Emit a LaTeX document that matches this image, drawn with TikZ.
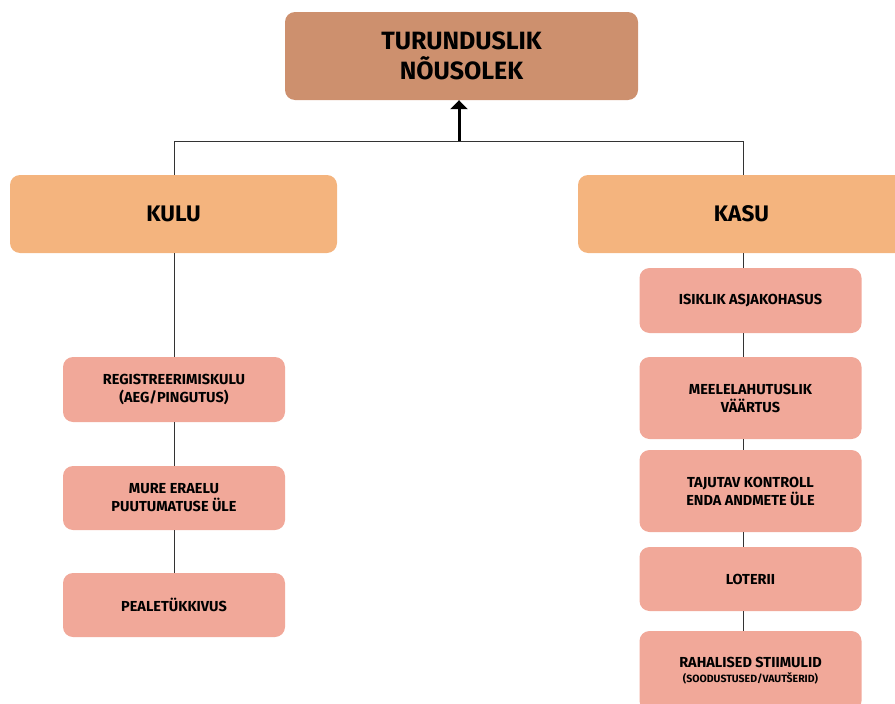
\documentclass[tikz,border=0pt]{standalone}
\usepackage{fontspec}
\setmainfont{Fira Sans}
\usetikzlibrary{arrows.meta}
\definecolor{topc}{HTML}{CD906E}
\definecolor{midc}{HTML}{F4B47E}
\definecolor{subc}{HTML}{F1A899}
\definecolor{linec}{HTML}{333333}
\tikzset{
  box/.style={rounded corners=10pt, inner sep=0pt, align=center, font=\bfseries},
  topbox/.style={box, fill=topc, minimum width=353pt, minimum height=88pt, font=\bfseries\fontsize{25}{30}\selectfont},
  midbox/.style={box, fill=midc, minimum width=327pt, minimum height=78pt, font=\bfseries\fontsize{22.5}{26}\selectfont},
  subbox/.style={box, fill=subc, minimum width=222pt, font=\bfseries\fontsize{14.5}{18}\selectfont},
  conn/.style={draw=linec, line width=0.9pt},
}
\begin{document}
\begin{tikzpicture}[x=1pt,y=-1pt]
\useasboundingbox (0,0) rectangle (895,704);
\clip (0,0) rectangle (895,704);
\node[topbox] (top) at (461.5,56) {TURUNDUSLIK\\NÕUSOLEK};
\node[midbox] (kulu) at (173.5,214) {KULU};
\node[midbox] (kasu) at (741.5,214) {KASU};
\node[subbox, minimum height=65pt] (reg) at (174,389.5) {REGISTREERIMISKULU\\(AEG/PINGUTUS)};
\node[subbox, minimum height=64pt] (mure) at (174,498) {MURE ERAELU\\PUUTUMATUSE ÜLE};
\node[subbox, minimum height=64pt] (peal) at (174,605) {PEALETÜKKIVUS};
\node[subbox, minimum height=65pt] (isik) at (750.5,300.5) {ISIKLIK ASJAKOHASUS};
\node[subbox, minimum height=82pt] (meel) at (750.5,398) {MEELELAHUTUSLIK\\VÄÄRTUS};
\node[subbox, minimum height=82pt] (taju) at (750.5,491) {TAJUTAV KONTROLL\\ENDA ANDMETE ÜLE};
\node[subbox, minimum height=64pt] (lot) at (750.5,579) {LOTERII};
\node[subbox, minimum height=80pt] (rah) at (750.5,671) {RAHALISED STIIMULID\\[-3pt]{\fontsize{10.5}{12}\selectfont (SOODUSTUSED/VAUTŠERID)}};
\coordinate (hl) at (174,141);
\coordinate (hr) at (743,141);
\coordinate (hm) at (459,141);
\draw[conn] (kulu.north -| hl) -- (hl) -- (hr) -- (kasu.north -| hr);
\draw[line width=3pt, -{Triangle[length=9pt,width=17pt]}] (hm) -- (hm |- top.south);
\draw[conn] (kulu.south -| hl) -- (reg.north -| hl);
\draw[conn] (reg.south -| hl) -- (mure.north -| hl);
\draw[conn] (mure.south -| hl) -- (peal.north -| hl);
\draw[conn] (kasu.south -| hr) -- (isik.north -| hr);
\draw[conn] (isik.south -| hr) -- (meel.north -| hr);
\draw[conn] (meel.south -| hr) -- (taju.north -| hr);
\draw[conn] (taju.south -| hr) -- (lot.north -| hr);
\draw[conn] (lot.south -| hr) -- (rah.north -| hr);
\end{tikzpicture}
\end{document}
